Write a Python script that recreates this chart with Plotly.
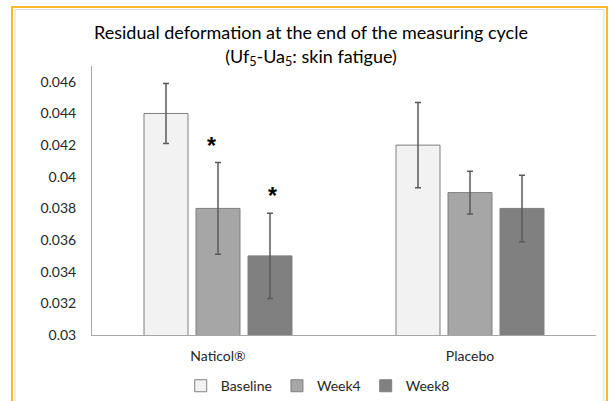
import plotly.graph_objects as go

categories = ["Naticol®", "Placebo"]
series_names = ["Baseline", "Week4", "Week8"]
baseline = [0.044, 0.042]
week4 = [0.038, 0.039]
week8 = [0.035, 0.038]
baseline_err = [0.0019, 0.0027]
week4_err = [0.0029, 0.00135]
week8_err = [0.0027, 0.0021]
y_ticks = [0.03, 0.032, 0.034, 0.036, 0.038, 0.04, 0.042, 0.044, 0.046]
y_tick_labels = ["0.03", "0.032", "0.034", "0.036", "0.038", "0.04", "0.042", "0.044", "0.046"]

colors = ["#F2F2F2", "#A6A6A6", "#808080"]
FONT = "Lato"
TXT = "#262626"

fig = go.Figure()
for name, vals, errs, col in zip(series_names, [baseline, week4, week8],
                                 [baseline_err, week4_err, week8_err], colors):
    fig.add_trace(go.Bar(
        name=name, x=categories, y=vals,
        marker=dict(color=col, line=dict(color="#7F7F7F", width=1)),
        error_y=dict(type="data", array=errs, visible=True,
                     color="#595959", thickness=1.5, width=3),
    ))

# significance asterisks (Naticol Week4 and Week8)
for vals, errs, xs in [(week4, week4_err, -7), (week8, week8_err, 54)]:
    fig.add_annotation(x=categories[0], y=vals[0] + errs[0], xref="x", yref="y",
                       text="<b>*</b>", showarrow=False, xshift=xs,
                       yanchor="bottom", yshift=2,
                       font=dict(family="Liberation Sans", size=23, color="#000000"))

fig.update_layout(
    width=611, height=401,
    margin=dict(l=92, r=15, t=66, b=66, autoexpand=False),
    paper_bgcolor="white", plot_bgcolor="white",
    barmode="group", bargap=0.381, bargroupgap=0.154,
    font=dict(family=FONT, size=14, color=TXT),
    title=dict(text="Residual deformation at the end of the measuring cycle<br>(Uf<sub>5</sub>-Ua<sub>5</sub>: skin fatigue)",
               x=0.509, xref="container", xanchor="center",
               y=0.902, yref="container", yanchor="middle",
               font=dict(family=FONT, size=18, color="#000000")),
    legend=dict(orientation="h", x=0.52, xref="container", xanchor="center",
                y=0.037, yref="container", yanchor="middle",
                font=dict(family=FONT, size=14, color=TXT),
                itemwidth=30, traceorder="normal"),
    showlegend=True,
)
fig.update_yaxes(range=[0.03, 0.047], tickvals=y_ticks, ticktext=y_tick_labels,
                 showgrid=False, zeroline=False, showline=True, automargin=False,
                 linecolor="#A6A6A6", linewidth=1, ticks="", ticklen=0,
                 ticklabelstandoff=12,
                 tickfont=dict(family=FONT, size=14, color=TXT))
fig.update_xaxes(showgrid=False, showline=True, linecolor="#A6A6A6", linewidth=1,
                 ticks="", ticklabelstandoff=8, automargin=False,
                 tickfont=dict(family=FONT, size=14, color=TXT))

# orange frame around the whole picture, with a thin grey inner line
fig.add_shape(type="rect", xref="paper", yref="paper",
              x0=(12 - 92) / 504, x1=(607 - 92) / 504,
              y0=(335 - 410) / 269, y1=(335 - 7) / 269,
              line=dict(color="#FBB829", width=2), fillcolor="rgba(0,0,0,0)",
              layer="below")
fig.add_shape(type="rect", xref="paper", yref="paper",
              x0=(15 - 92) / 504, x1=(604 - 92) / 504,
              y0=(335 - 410) / 269, y1=(335 - 9.5) / 269,
              line=dict(color="#D9D9D9", width=1), fillcolor="rgba(0,0,0,0)",
              layer="below")

fig.write_html("out.html", config={"displayModeBar": False},
               post_script="document.body.style.margin='0px';")
